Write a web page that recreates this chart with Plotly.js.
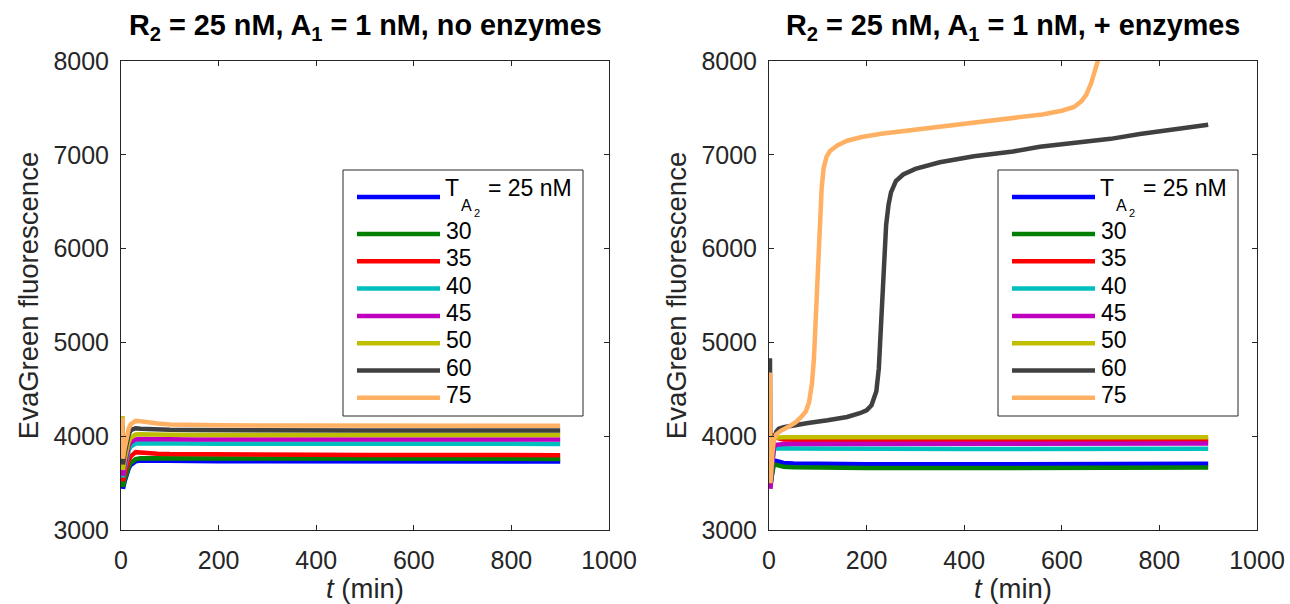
<!DOCTYPE html>
<html>
<head>
<meta charset="utf-8">
<script src="https://cdn.plot.ly/plotly-3.0.1.min.js"></script>
<style>
  html, body { margin: 0; padding: 0; background: #fff; }
  #chart { width: 1290px; height: 604px; }
</style>
</head>
<body>
<div id="chart"></div>
<script>
// T_A2 concentrations (nM) and the colour used for each trace
const concentrations = [25, 30, 35, 40, 45, 50, 60, 75];
const colors = ['#0000ff', '#008000', '#ff0000', '#00bfbf', '#bf00bf', '#bfbf00', '#404040', '#ffb062'];

// ---- R2 = 25 nM, A1 = 1 nM, no enzymes ----
const tNoEnz = [3, 4, 7, 10, 13, 16, 20, 25, 30, 40, 50, 75, 100, 150, 200, 300, 400, 500, 600, 700, 800, 900];
const noEnz25 = [3950, 3440, 3510, 3570, 3620, 3660, 3695, 3720, 3732, 3740, 3739, 3737, 3736, 3735, 3734, 3733, 3733, 3732, 3732, 3731, 3731, 3730];
const noEnz30 = [3980, 3460, 3530, 3590, 3640, 3680, 3715, 3742, 3755, 3764, 3764, 3763, 3762, 3761, 3760, 3760, 3760, 3759, 3759, 3758, 3758, 3758];
const noEnz35 = [4010, 3520, 3590, 3650, 3700, 3745, 3785, 3815, 3830, 3826, 3820, 3813, 3809, 3806, 3804, 3802, 3801, 3800, 3800, 3799, 3799, 3798];
const noEnz40 = [4050, 3560, 3650, 3730, 3795, 3850, 3890, 3912, 3922, 3925, 3924, 3922, 3921, 3920, 3920, 3920, 3919, 3919, 3918, 3918, 3918, 3918];
const noEnz45 = [4080, 3580, 3680, 3770, 3845, 3900, 3935, 3958, 3966, 3970, 3969, 3968, 3967, 3966, 3966, 3966, 3965, 3965, 3965, 3965, 3965, 3965];
const noEnz50 = [4215, 3640, 3740, 3830, 3895, 3945, 3985, 4008, 4018, 4020, 4018, 4016, 4015, 4014, 4013, 4013, 4012, 4012, 4012, 4012, 4012, 4012];
const noEnz60 = [4120, 3700, 3810, 3900, 3970, 4025, 4065, 4082, 4085, 4080, 4076, 4071, 4068, 4065, 4063, 4062, 4062, 4062, 4061, 4061, 4061, 4060];
const noEnz75 = [4200, 3760, 3860, 3950, 4025, 4085, 4128, 4152, 4163, 4160, 4150, 4136, 4126, 4119, 4116, 4113, 4112, 4112, 4112, 4112, 4112, 4112];

// ---- R2 = 25 nM, A1 = 1 nM, + enzymes ----
const tEnz = [2, 3, 5, 7, 10, 15, 20, 30, 50, 100, 200, 300, 400, 500, 600, 700, 800, 900];
const enz25 = [3600, 3460, 3560, 3670, 3740, 3735, 3725, 3715, 3708, 3703, 3700, 3700, 3700, 3700, 3701, 3702, 3703, 3705];
const enz30 = [3620, 3470, 3550, 3640, 3700, 3694, 3684, 3675, 3668, 3663, 3660, 3660, 3661, 3662, 3663, 3664, 3665, 3666];
const enz35 = [3700, 3500, 3700, 3900, 4000, 3990, 3976, 3966, 3961, 3958, 3957, 3956, 3956, 3956, 3956, 3956, 3957, 3958];
const enz40 = [3750, 3520, 3650, 3790, 3855, 3868, 3871, 3871, 3870, 3868, 3866, 3865, 3864, 3864, 3864, 3864, 3864, 3865];
const enz45 = [3800, 3440, 3600, 3780, 3885, 3908, 3914, 3917, 3918, 3918, 3918, 3918, 3919, 3920, 3920, 3920, 3921, 3922];
const enz50 = [3900, 3540, 3750, 3920, 3975, 3984, 3987, 3988, 3988, 3987, 3986, 3986, 3986, 3986, 3987, 3987, 3988, 3988];
const tEnz60 = [2, 3, 5, 7, 10, 15, 20, 30, 50, 80, 120, 160, 186, 200, 210, 215, 220, 225, 230, 235, 240, 245, 250, 260, 275, 300, 350, 420, 500, 555, 600, 700, 760, 800, 900];
const enz60 = [4830, 3520, 3700, 3850, 3960, 4050, 4080, 4095, 4115, 4140, 4170, 4205, 4245, 4275, 4330, 4390, 4480, 4720, 5200, 5720, 6250, 6470, 6600, 6720, 6790, 6850, 6920, 6985, 7035, 7085, 7110, 7170, 7222, 7250, 7320];
const tEnz75 = [2, 3, 5, 7, 10, 15, 25, 40, 55, 65, 75, 82, 88, 92, 96, 100, 104, 108, 112, 118, 125, 140, 160, 190, 230, 280, 350, 420, 500, 560, 600, 625, 640, 650, 660, 668, 675, 685, 700];
const enz75 = [4680, 3500, 3650, 3820, 3960, 4020, 4060, 4100, 4150, 4200, 4260, 4360, 4560, 4820, 5250, 5800, 6300, 6650, 6860, 6980, 7040, 7100, 7150, 7190, 7225, 7255, 7295, 7340, 7390, 7430, 7470, 7510, 7570, 7640, 7760, 7900, 8020, 8300, 8800];

// axis ticks
const xTicks = [0, 200, 400, 600, 800, 1000];
const yTicks = [3000, 4000, 5000, 6000, 7000, 8000];

const W = 1290, H = 604;
const FONT = 'Liberation Sans, Arial, Helvetica, sans-serif';
const INK = '#262626';
const LW = 4.5;
const TICK_SIZE = 25, LABEL_SIZE = 27.5, HEAD_SIZE = 28.8, LEG_SIZE = 23;
const px = x => x / W;
const py = y => 1 - y / H;

const plotTop = 61, plotBottom = 530;
const panels = [
  { xa: 'x', ya: 'y', left: 121, right: 609, legendLeft: 343,
    title: '<b>R<sub>2</sub> = 25 nM, A<sub>1</sub> = 1 nM, no enzymes</b>',
    times: [tNoEnz, tNoEnz, tNoEnz, tNoEnz, tNoEnz, tNoEnz, tNoEnz, tNoEnz],
    series: [noEnz25, noEnz30, noEnz35, noEnz40, noEnz45, noEnz50, noEnz60, noEnz75] },
  { xa: 'x2', ya: 'y2', left: 769, right: 1257, legendLeft: 998,
    title: '<b>R<sub>2</sub> = 25 nM, A<sub>1</sub> = 1 nM, + enzymes</b>',
    times: [tEnz, tEnz, tEnz, tEnz, tEnz, tEnz, tEnz60, tEnz75],
    series: [enz25, enz30, enz35, enz40, enz45, enz50, enz60, enz75] }
];

const traces = [];
const annotations = [];
const shapes = [];
const layout = {
  width: W, height: H,
  margin: { l: 0, r: 0, t: 0, b: 0 },
  paper_bgcolor: '#fff', plot_bgcolor: '#fff',
  showlegend: false,
  font: { family: FONT, color: INK, size: TICK_SIZE }
};

panels.forEach((p, k) => {
  p.series.forEach((vals, i) => {
    traces.push({
      type: 'scatter', mode: 'lines',
      x: p.times[i], y: vals,
      xaxis: p.xa, yaxis: p.ya,
      name: String(concentrations[i]),
      line: { color: colors[i], width: LW },
      hoverinfo: 'x+y+name'
    });
  });

  const sfx = k === 0 ? '' : '2';
  const common = {
    showline: true, linecolor: INK, linewidth: 1, mirror: 'ticks',
    ticks: 'inside', ticklen: 5, tickwidth: 1, tickcolor: INK,
    showgrid: false, zeroline: false, automargin: false,
    tickfont: { family: FONT, size: TICK_SIZE, color: INK }
  };
  layout['xaxis' + sfx] = Object.assign({}, common, {
    domain: [px(p.left), px(p.right)], anchor: p.ya, range: [0, 1000],
    tickvals: xTicks, ticktext: xTicks.map(String), ticklabelstandoff: 8,
    title: { text: '<i>t</i> (min)', font: { family: FONT, size: LABEL_SIZE, color: INK }, standoff: 0 }
  });
  layout['yaxis' + sfx] = Object.assign({}, common, {
    domain: [py(plotBottom), py(plotTop)], anchor: p.xa, range: [3000, 8000],
    tickvals: yTicks, ticktext: yTicks.map(String), ticklabelstandoff: 6,
    title: { text: 'EvaGreen fluorescence', font: { family: FONT, size: LABEL_SIZE, color: INK }, standoff: 6 }
  });

  // panel heading
  annotations.push({
    xref: 'paper', yref: 'paper', x: px((p.left + p.right) / 2), y: py(27),
    xanchor: 'center', yanchor: 'middle', showarrow: false,
    text: p.title, font: { family: FONT, size: HEAD_SIZE, color: '#000' }
  });

  // legend box
  const L = p.legendLeft;
  shapes.push({ type: 'rect', xref: 'paper', yref: 'paper',
    x0: px(L), x1: px(L + 240), y0: py(416), y1: py(170),
    line: { color: INK, width: 1 }, fillcolor: '#fff', layer: 'above' });
  concentrations.forEach((c, i) => {
    const rowY = i === 0 ? 197 : 234 + (i - 1) * 27.3;
    shapes.push({ type: 'line', xref: 'paper', yref: 'paper',
      x0: px(L + 14), x1: px(L + 97), y0: py(rowY), y1: py(rowY),
      line: { color: colors[i], width: LW }, layer: 'above' });
    if (i > 0) {
      annotations.push({ xref: 'paper', yref: 'paper', x: px(L + 101), y: py(rowY - 3),
        xanchor: 'left', yanchor: 'middle', showarrow: false,
        text: String(c), font: { family: FONT, size: LEG_SIZE, color: '#000' } });
    }
  });
  // first entry: T with nested subscript A_2, then "= 25 nM"
  const lab = (x, y, text, size) => annotations.push({ xref: 'paper', yref: 'paper',
    x: px(x), y: py(y), xanchor: 'left', yanchor: 'middle', showarrow: false,
    text, font: { family: FONT, size, color: '#000' } });
  lab(L + 100, 188, 'T', LEG_SIZE);
  lab(L + 116, 205, 'A', 16);
  lab(L + 129, 213, '2', 11);
  lab(L + 143, 188, '= ' + concentrations[0] + ' nM', LEG_SIZE);
});

layout.annotations = annotations;
layout.shapes = shapes;

Plotly.newPlot('chart', traces, layout, { displayModeBar: false, staticPlot: true });
</script>
</body>
</html>
